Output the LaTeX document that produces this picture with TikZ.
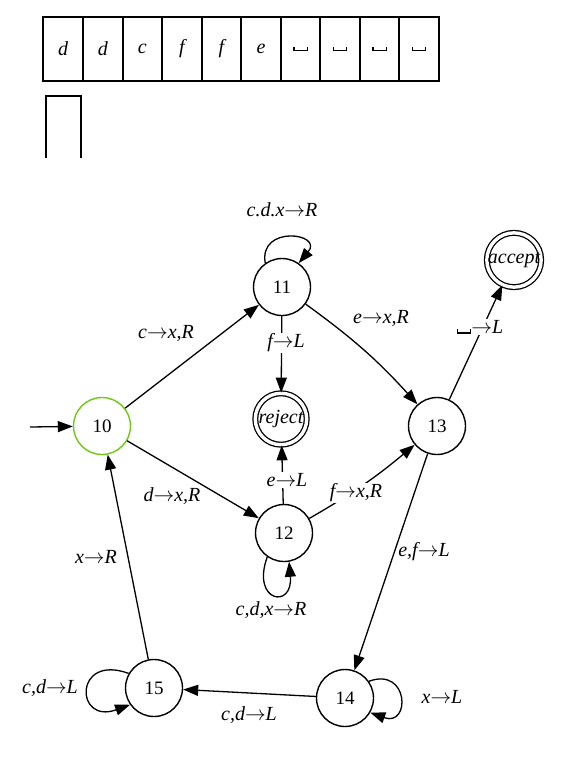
\documentclass[tikz,border=0pt]{standalone}
\usepackage{fontspec}
\setmainfont{Liberation Serif}
\usetikzlibrary{arrows.meta}
\definecolor{startgreen}{RGB}{110,200,20}
\newcommand\blanksym{\rule{1.2pt}{4.5pt}\rule{12pt}{1.2pt}\rule{1.2pt}{4.5pt}}
\newcommand\tto{$\rightarrow$}
\begin{document}
\begin{tikzpicture}[x=1pt,y=-1pt,
  state/.style={circle,draw,line width=1.4pt,minimum size=57pt,inner sep=0pt,font=\fontsize{19}{22}\selectfont},
  finalst/.style={circle,draw,line width=1.3pt,double,double distance=3.4pt,minimum size=51.4pt,inner sep=0pt,font=\fontsize{20}{24}\selectfont\itshape},
  edge/.style={line width=1.3pt,-{Triangle[length=15pt,width=11pt]}},
  lbl/.style={font=\fontsize{20}{24}\selectfont\itshape,inner sep=1pt},
  lblw/.style={lbl,fill=white},
  cell/.style={draw,line width=2pt,minimum width=39.55pt,minimum height=64pt,inner sep=0pt,font=\fontsize{20}{24}\selectfont\itshape}]
\useasboundingbox (0,0) rectangle (582,764);
% tape
\foreach \s [count=\i] in {d,d,c,f,f,e,\blanksym,\blanksym,\blanksym,\blanksym}{
  \node[cell] (cell\i) at ({63.2+39.55*(\i-1)},49) {\s};
}
\draw[line width=2pt] (46,158) -- (46,96) -- (81,96) -- (81,158);
% states
\node[state,draw=startgreen] (n10) at (102,426) {10};
\node[state] (n11) at (282,287) {11};
\node[state] (n12) at (284,533) {12};
\node[state] (n13) at (437,426) {13};
\node[state] (n14) at (345,698) {14};
\node[state] (n15) at (154,688) {15};
\node[finalst] (rej) at (281,419) {reject};
\node[finalst] (acc) at (514,260) {accept};
\coordinate (start) at (30,427);
% edges
\draw[edge] (start) -- (n10);
\draw[edge] (n10) -- (n11);
\draw[edge] (n10) -- (n12);
\draw[edge] (n11) -- (rej);
\draw[edge] (n12) -- (rej);
\draw[edge] (n11) to[bend left=6] (n13);
\draw[edge] (n12) to[bend right=5] (n13);
\draw[edge] (n13) -- (acc);
\draw[edge] (n13) -- (n14);
\draw[edge] (n14) -- (n15);
\draw[edge] (n15) -- (n10);
% loops
\draw[edge] (n11.125) to[out=100,in=50,looseness=3] (n11.55);
\draw[edge] (n12.235) to[out=250,in=275,looseness=5.5] (n12.280);
\draw[edge] (n14.35) to[out=20,in=-20,looseness=3.5] (n14.-30);
\draw[edge] (n15.150) to[out=160,in=200,looseness=4.8] (n15.215);
% labels
\node[lbl] (l1) at (282,210) {c.d.x\tto R};
\node[lbl] (l2) at (166,333) {c\tto x,R};
\node[lblw] (l3) at (286,343) {f\tto L};
\node[lblw] (l4) at (287,480) {e\tto L};
\node[lbl] (l5) at (172,496) {d\tto x,R};
\node[lbl] (l6) at (381,318) {e\tto x,R};
\node[lblw] (l7) at (480,327) {\blanksym\tto L};
\node[lblw] (l8) at (356,493) {f\tto x,R};
\node[lbl] (l9) at (424,552) {e,f\tto L};
\node[lbl] (l10) at (271,610) {c,d,x\tto R};
\node[lbl] (l11) at (96,557) {x\tto R};
\node[lbl] (l12) at (50,688) {c,d\tto L};
\node[lbl] (l13) at (249,715) {c,d\tto L};
\node[lbl] (l14) at (442,697) {x\tto L};
\end{tikzpicture}
\end{document}
